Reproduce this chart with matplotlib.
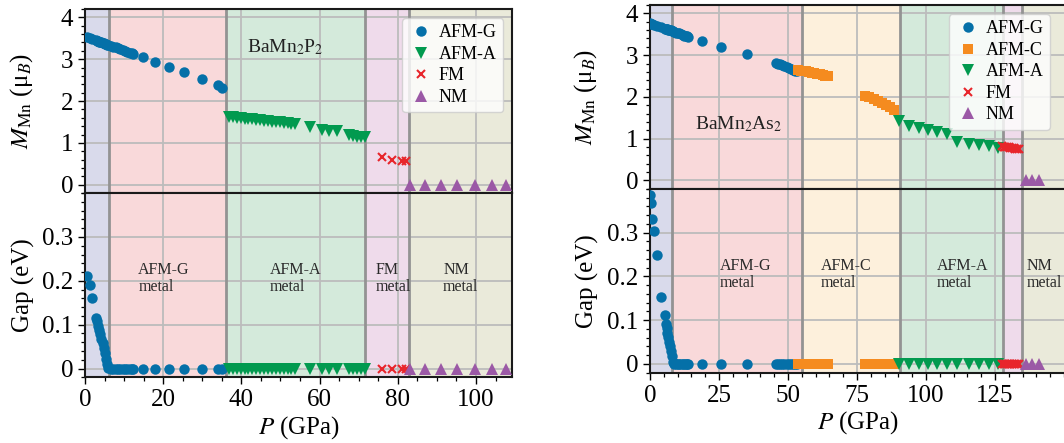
import matplotlib
matplotlib.use('Agg')
import matplotlib.pyplot as plt
from matplotlib.ticker import MultipleLocator, FixedLocator, FuncFormatter

plt.rcParams['font.family'] = ['Liberation Serif', 'DejaVu Serif']
plt.rcParams['mathtext.fontset'] = 'stix'

# ---------------- BaMn2P2 (left) ----------------
PL_G = [0.6, 1.2, 1.9, 2.7, 3.0, 3.3, 3.6, 3.9, 4.2, 4.5, 4.8, 5.1, 5.4, 5.7, 6.0,
        6.6, 7.2, 7.8, 8.4, 9.0, 9.6, 10.2, 10.8, 11.4, 12.0, 12.4,
        14.9, 17.9, 21.6, 25.4, 29.8, 34.1, 35.1]
ML_G = [3.52, 3.50, 3.48, 3.45, 3.44, 3.43, 3.42, 3.41, 3.40, 3.39, 3.38, 3.37, 3.36, 3.35, 3.34,
        3.32, 3.30, 3.28, 3.26, 3.24, 3.22, 3.20, 3.18, 3.16, 3.14, 3.13,
        3.05, 2.94, 2.82, 2.70, 2.52, 2.39, 2.31]
GL_G = [0.21, 0.19, 0.16, 0.115, 0.108, 0.098, 0.088, 0.078, 0.068, 0.058, 0.046, 0.035, 0.022, 0.010, 0.002,
        0, 0, 0, 0, 0, 0, 0, 0, 0, 0, 0,
        0, 0, 0, 0, 0, 0, 0]
PL_A = [36.8, 37.8, 38.8, 39.8, 40.8, 41.8, 42.8, 43.8, 44.8, 45.8, 46.8, 47.8, 48.8, 49.8,
        50.8, 51.8, 52.8, 53.8, 57.5, 60.5, 62.5, 64.5, 67.5, 68.5, 69.5, 70.5, 71.5]
ML_A = [1.62, 1.61, 1.60, 1.59, 1.58, 1.57, 1.56, 1.55, 1.54, 1.53, 1.52, 1.51, 1.50, 1.49,
        1.48, 1.47, 1.46, 1.45, 1.38, 1.30, 1.29, 1.28, 1.18, 1.16, 1.15, 1.14, 1.13]
GL_A = [0, 0, 0, 0, 0, 0, 0, 0, 0, 0, 0, 0, 0, 0,
        0, 0, 0, 0, 0, 0, 0, 0, 0, 0, 0, 0, 0]
PL_F = [75.9, 78.4, 81.0, 82.2]
ML_F = [0.66, 0.59, 0.57, 0.56]
GL_F = [0, 0, 0, 0]
PL_N = [83.1, 86.9, 91.0, 95.2, 99.7, 104.0, 107.8]
ML_N = [0, 0, 0, 0, 0, 0, 0]
GL_N = [0, 0, 0, 0, 0, 0, 0]

# ---------------- BaMn2As2 (right) ----------------
PR_G = [0.0, 0.36, 0.85, 1.45, 2.4, 3.9, 5.45, 5.7, 6.0, 6.3, 6.6, 6.9, 7.2, 7.5, 7.8, 8.2,
        8.8, 9.4, 10.0, 10.6, 11.2, 11.8, 12.4, 13.0, 13.5, 13.9, 19.0, 25.9, 35.1,
        45.5, 46.3, 47.1, 47.9, 48.7, 49.5, 50.3, 51.1, 51.9, 52.7, 53.3]
MR_G = [3.76, 3.75, 3.74, 3.73, 3.70, 3.67, 3.63, 3.63, 3.62, 3.62, 3.61, 3.60, 3.59, 3.59, 3.58, 3.57,
        3.56, 3.54, 3.53, 3.52, 3.50, 3.49, 3.47, 3.46, 3.45, 3.44, 3.33, 3.19, 3.02,
        2.82, 2.80, 2.78, 2.76, 2.74, 2.72, 2.70, 2.67, 2.65, 2.63, 2.61]
GR_G = [0.387, 0.368, 0.332, 0.304, 0.249, 0.154, 0.111, 0.092, 0.082, 0.071, 0.061, 0.050, 0.040, 0.029, 0.018, 0.005,
        0, 0, 0, 0, 0, 0, 0, 0, 0, 0, 0, 0, 0,
        0, 0, 0, 0, 0, 0, 0, 0, 0, 0, 0]
PR_C = [53.6, 54.6, 55.6, 56.6, 57.6, 58.6, 59.6, 60.6, 61.6, 62.6, 63.6, 64.6,
        78.0, 79.5, 81.0, 82.5, 84.0, 85.5, 87.0, 88.5]
MR_C = [2.64, 2.63, 2.62, 2.61, 2.59, 2.58, 2.57, 2.56, 2.54, 2.52, 2.51, 2.50,
        2.03, 1.99, 1.95, 1.91, 1.86, 1.81, 1.75, 1.69]
GR_C = [0, 0, 0, 0, 0, 0, 0, 0, 0, 0, 0, 0,
        0, 0, 0, 0, 0, 0, 0, 0]
PR_A = [90.2, 93.8, 97.5, 100.7, 104.1, 107.8, 111.4, 115.6, 119.3, 122.9, 126.0]
MR_A = [1.42, 1.31, 1.26, 1.22, 1.15, 1.11, 0.91, 0.88, 0.84, 0.82, 0.78]
GR_A = [0, 0, 0, 0, 0, 0, 0, 0, 0, 0, 0]
PR_F = [127.6, 128.2, 128.8, 129.4, 130.0, 130.6, 131.2, 131.8, 132.4, 133.0, 133.6]
MR_F = [0.82, 0.81, 0.80, 0.80, 0.79, 0.78, 0.78, 0.77, 0.76, 0.76, 0.75]
GR_F = [0, 0, 0, 0, 0, 0, 0, 0, 0, 0, 0]
PR_N = [136.2, 138.6, 141.0]
MR_N = [0, 0, 0]
GR_N = [0, 0, 0]

# phase boundaries, tick labels and phase labels
BOUND_L = [0, 6.2, 36.0, 71.7, 82.9, 109.3]
BOUND_R = [0, 8.1, 55.0, 90.6, 128.1, 134.8, 150.5]
XTICKS_L = [0, 20, 40, 60, 80, 100]
XTICKS_R = [0, 25, 50, 75, 100, 125]
YTICKS_M = [0, 1, 2, 3, 4]
YTICKS_GAP = [0, 0.1, 0.2, 0.3]
LABELS_L = [(13.6, 'AFM-G\nmetal'), (47.3, 'AFM-A\nmetal'), (74.3, 'FM\nmetal'), (91.6, 'NM\nmetal')]
LABELS_R = [(25.2, 'AFM-G\nmetal'), (61.8, 'AFM-C\nmetal'), (103.8, 'AFM-A\nmetal'), (136.5, 'NM\nmetal')]

# colours
C_LAV, C_PINK, C_GRN, C_ORG, C_THI, C_BEI = '#d9daeb', '#f9d9da', '#d4eadb', '#fdf0dc', '#efdbeb', '#eaeada'
BG_L = [C_LAV, C_PINK, C_GRN, C_THI, C_BEI]
BG_R = [C_LAV, C_PINK, C_ORG, C_GRN, C_THI, C_BEI]
COL_G, COL_C, COL_A, COL_F, COL_N = '#0570a8', '#f58b1f', '#019a4f', '#e8252b', '#9b59a6'

STY = {
    'G': dict(marker='o', color=COL_G, ms=7.5, mew=0),
    'C': dict(marker='s', color=COL_C, ms=7.3, mew=0),
    'A': dict(marker='v', color=COL_A, ms=8.5, mew=0),
    'F': dict(marker='x', color=COL_F, ms=6.0, mew=1.5),
    'N': dict(marker='^', color=COL_N, ms=8.5, mew=0),
}

fig = plt.figure(figsize=(10.64, 4.43), dpi=100)
H = 0.4157
axLT = fig.add_axes([0.0799, 0.1483 + H, 0.4016, H])
axLB = fig.add_axes([0.0799, 0.1483, 0.4016, H])
HR = 0.415
axRT = fig.add_axes([0.6109, 0.1587 + HR, 0.3903, HR])
axRB = fig.add_axes([0.6109, 0.1587, 0.3903, HR])

fmt = FuncFormatter(lambda v, p: '%g' % round(v, 3))


def style(ax, bounds, bgs, xticks, top):
    for i, c in enumerate(bgs):
        ax.axvspan(bounds[i], bounds[i + 1], color=c, lw=0, zorder=0.1)
    for b in bounds[1:-1]:
        ax.axvline(b, color='#939393', lw=2.0, zorder=0.8)
    ax.set_xlim(bounds[0], bounds[-1])
    ax.set_axisbelow(True)
    ax.xaxis.set_major_locator(FixedLocator(xticks))
    ax.xaxis.set_minor_locator(MultipleLocator(5))
    if top:
        ax.set_ylim(-0.2, 4.2)
        ax.yaxis.set_major_locator(FixedLocator(YTICKS_M))
        ax.yaxis.set_minor_locator(MultipleLocator(0.2))
        ax.tick_params(axis='x', which='both', bottom=False, labelbottom=False)
        ax.set_ylabel(r'$M_{\rm Mn}$ (μ$_B$)', fontsize=18)
    else:
        ax.set_ylim(-0.02, 0.4)
        ax.yaxis.set_major_locator(FixedLocator(YTICKS_GAP))
        ax.yaxis.set_minor_locator(MultipleLocator(0.02))
        ax.set_ylabel('Gap (eV)', fontsize=18)
        ax.set_xlabel(r'$P$ (GPa)', fontsize=18, labelpad=2)
    ax.grid(True, which='major', color='#bcbcbc', lw=1.3)
    ax.yaxis.set_major_formatter(fmt)
    ax.xaxis.set_major_formatter(fmt)
    ax.tick_params(which='major', direction='out', length=5, width=1.0, labelsize=18)
    ax.tick_params(which='minor', direction='out', length=3, width=0.9)
    for s in ax.spines.values():
        s.set_linewidth(1.5)
        s.set_color('#1a1a1a')


style(axLT, BOUND_L, BG_L, XTICKS_L, True)
style(axLB, BOUND_L, BG_L, XTICKS_L, False)
style(axRT, BOUND_R, BG_R, XTICKS_R, True)
style(axRB, BOUND_R, BG_R, XTICKS_R, False)


def pts(ax, x, y, key, label=None):
    ax.plot(x, y, ls='none', zorder=3, label=label, clip_on=True, **STY[key])


pts(axLT, PL_G, ML_G, 'G', 'AFM-G')
pts(axLT, PL_A, ML_A, 'A', 'AFM-A')
pts(axLT, PL_F, ML_F, 'F', 'FM')
pts(axLT, PL_N, ML_N, 'N', 'NM')
pts(axLB, PL_G, GL_G, 'G')
pts(axLB, PL_A, GL_A, 'A')
pts(axLB, PL_F, GL_F, 'F')
pts(axLB, PL_N, GL_N, 'N')

pts(axRT, PR_G, MR_G, 'G', 'AFM-G')
pts(axRT, PR_C, MR_C, 'C', 'AFM-C')
pts(axRT, PR_A, MR_A, 'A', 'AFM-A')
pts(axRT, PR_F, MR_F, 'F', 'FM')
pts(axRT, PR_N, MR_N, 'N', 'NM')
pts(axRB, PR_G, GR_G, 'G')
pts(axRB, PR_C, GR_C, 'C')
pts(axRB, PR_A, GR_A, 'A')
pts(axRB, PR_F, GR_F, 'F')
pts(axRB, PR_N, GR_N, 'N')

axLT.legend(loc='upper right', fontsize=13, labelspacing=0.25, handletextpad=0.3,
            handlelength=1.4, borderpad=0.35, framealpha=0.8, edgecolor='#cccccc',
            fancybox=True)
axRT.legend(loc='upper right', bbox_to_anchor=(0.985, 1.0), fontsize=13, labelspacing=0.25,
            handletextpad=0.3, handlelength=1.4, borderpad=0.35, framealpha=0.8,
            edgecolor='#cccccc', fancybox=True)

axLT.text(41.5, 3.28, r'BaMn$_2$P$_2$', fontsize=14, va='center', ha='left', color='#222222')
axRT.text(16.3, 1.36, r'BaMn$_2$As$_2$', fontsize=14, va='center', ha='left', color='#222222')

for x, t in LABELS_L:
    axLB.text(x, 0.205, t, fontsize=11.5, va='center', ha='left', color='#2a2a2a', linespacing=1.05)
for x, t in LABELS_R:
    axRB.text(x, 0.205, t, fontsize=11.5, va='center', ha='left', color='#2a2a2a', linespacing=1.05)

for ax in (axLT, axLB):
    ax.yaxis.set_label_coords(-0.118, 0.5)
for ax in (axRT, axRB):
    ax.yaxis.set_label_coords(-0.122, 0.5)

fig.savefig('out.png', dpi=100)
